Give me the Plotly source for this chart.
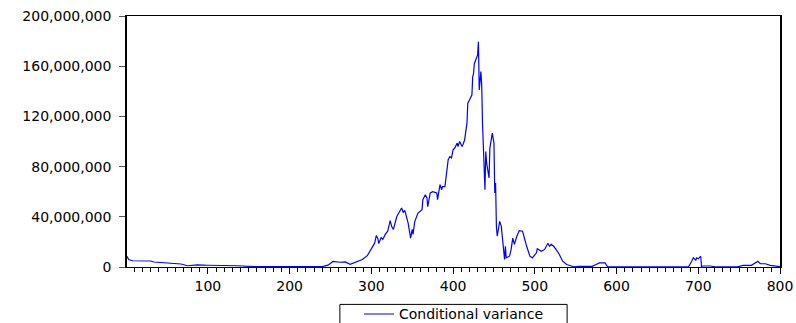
import plotly.graph_objects as go

obs = [1, 3, 8, 20, 30, 34, 46, 55, 67, 75, 87, 100, 115, 136, 156, 200, 237,
       241, 247, 250, 253, 262, 268, 274, 282, 289, 295, 301, 304, 306, 308,
       309, 312, 314, 317, 320, 323, 325, 327, 331, 335, 337, 339, 341, 345,
       347, 348, 350, 351, 353, 357, 362, 363, 366, 368, 369, 372, 375, 380,
       381, 384, 386, 387, 390, 392, 394, 396, 398, 400, 402, 405, 406, 408,
       411, 412, 414, 417, 418, 420, 423, 424, 425, 426, 429, 430, 431, 432,
       434, 435, 436, 439, 440, 441, 444, 445, 448, 450, 451, 452, 453, 454,
       457, 459, 461, 463, 464, 465, 469, 471, 473, 475, 478, 481, 485, 487,
       490, 494, 497, 502, 503, 508, 512, 516, 518, 520, 523, 526, 530, 534,
       539, 542, 548, 554, 570, 575, 579, 582, 586, 589, 605, 619, 636, 650,
       688, 692, 694, 697, 698, 700, 703, 704, 706, 715, 720, 748, 750, 755,
       765, 770, 773, 776, 782, 788, 795, 800]
variance_m = [8.5, 6.0, 5.0, 5.2, 4.8, 4.0, 3.5, 2.6, 2.4, 1.0, 1.7, 1.4, 1.3,
              1.0, 0.3, 0.1, 0.1,
              0.5, 1.5, 3.3, 4.4, 3.8, 4.0, 2.2, 4.5, 6.0, 9.0, 15.0, 19.0,
              25.0, 22.6, 18.7, 23.5, 22.0, 26.0, 28.5, 37.0, 32.0, 30.0, 40.0,
              44.0, 47.0, 43.6, 45.0, 35.0, 27.0, 23.0, 30.0, 26.0, 36.0, 43.0,
              45.7, 53.7, 57.6, 55.0, 48.0, 59.0, 60.0, 59.0, 53.7, 65.6, 61.6,
              64.0, 64.0, 75.0, 85.5, 88.0, 87.0, 93.4, 94.8, 98.7, 96.0, 100.0,
              96.0, 97.4, 101.0, 114.6, 130.5, 133.0, 137.0, 151.7, 154.0,
              162.0, 167.6, 169.0, 179.5, 141.0, 155.7, 145.0, 114.6, 61.6,
              92.0, 83.0, 71.0, 94.8, 106.7, 98.7, 59.0, 67.0, 32.0, 24.5,
              36.4, 32.4, 19.0, 6.0, 16.5, 7.3, 8.6, 14.0, 23.0, 18.0, 24.5,
              29.0, 28.5, 23.0, 16.5, 8.6, 7.3, 11.3, 14.5, 12.6, 14.0, 19.0,
              16.5, 18.0, 16.5, 14.0, 10.0, 4.6, 2.0, 1.4, 0.2, 0.5, 0.5, 2.0,
              3.3, 3.3, 3.3, 0.2, 0.2, 0.5, 0.4, 0.1,
              0.1, 4.6, 7.3, 5.5, 7.3, 6.5, 8.6, 0.5, 0.8, 0.8, 0.2, 0.2, 0.5,
              1.3, 1.3, 3.3, 4.6, 2.6, 2.6, 1.3, 1.0, 0.3]
variance = [v * 1e6 for v in variance_m]

y_ticks = [0, 40e6, 80e6, 120e6, 160e6, 200e6]

fig = go.Figure()
fig.add_trace(go.Scatter(
    x=obs,
    y=variance,
    mode='lines',
    name='Conditional variance',
    line=dict(color='#0000ff', width=1.2),
))

fig.update_layout(
    width=796,
    height=323,
    margin=dict(l=127, r=16, t=16, b=56, autoexpand=False),
    plot_bgcolor='white',
    paper_bgcolor='white',
    font=dict(family='DejaVu Sans', size=13, color='black'),
    showlegend=True,
    legend=dict(
        x=0.5, xanchor='center',
        y=-0.125, yanchor='top',
        orientation='h',
        borderwidth=0,
        bgcolor='rgba(0,0,0,0)',
        font=dict(size=14),
    ),
)

# legend frame (runs off the bottom edge like in the original)
fig.add_shape(
    type='rect',
    xref='paper', yref='paper',
    x0=0.326, x1=0.674,
    y0=-0.149, y1=-0.26,
    line=dict(color='black', width=1),
    fillcolor='rgba(0,0,0,0)',
)

fig.update_xaxes(
    range=[1, 800],
    tick0=0,
    dtick=100,
    ticks='outside',
    ticklen=6,
    tickcolor='black',
    minor=dict(dtick=10, ticks='outside', ticklen=4, tickcolor='black'),
    showline=True,
    linecolor='black',
    linewidth=1,
    mirror=True,
    showgrid=False,
    zeroline=False,
    tickfont=dict(size=14),
)

fig.update_yaxes(
    range=[0, 200e6],
    tickvals=y_ticks,
    tickformat=',d',
    ticks='outside',
    ticklen=6,
    tickcolor='#555555',
    ticklabelstandoff=5,
    showline=True,
    linecolor='black',
    linewidth=1.5,
    mirror=True,
    showgrid=False,
    zeroline=False,
    tickfont=dict(size=14),
)

fig.write_html("out.html", config={'displayModeBar': False},
               post_script="document.body.style.margin='0';")
